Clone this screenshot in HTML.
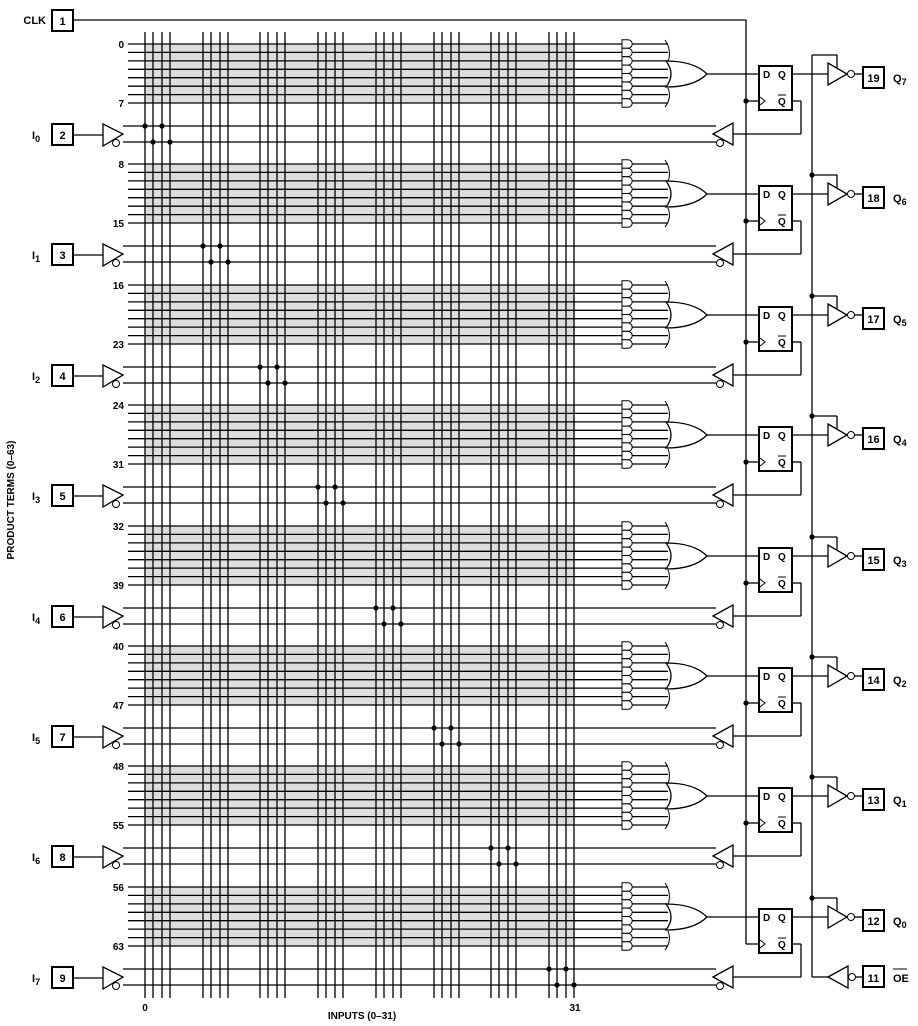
<!DOCTYPE html>
<html><head><meta charset="utf-8"><style>
html,body{margin:0;padding:0;background:#fff;width:918px;height:1026px;overflow:hidden}
svg{display:block}
text{font-family:"Liberation Sans",Arial,sans-serif;font-weight:bold;font-size:11px;fill:#000}
.s{font-size:10px}
.r{text-anchor:end}
.m{text-anchor:middle}
</style></head><body>
<svg id="d" width="918" height="1026" viewBox="0 0 918 1026" xmlns="http://www.w3.org/2000/svg">
<g id="geo" stroke="#000" stroke-width="1.3" fill="none"></g>
<g id="txt">
<text x="46" y="24" class="r">CLK</text><text x="62.5" y="25" class="m">1</text>
<text x="14" y="500" transform="rotate(-90 14 500)" class="m s">PRODUCT TERMS (0–63)</text>
<text x="362" y="1019" class="m s">INPUTS (0–31)</text>
<text x="145" y="1011" class="m s">0</text><text x="575" y="1011" class="m s">31</text>
<text x="124" y="48" class="r s">0</text><text x="124" y="107" class="r s">7</text>
<text x="124" y="168" class="r s">8</text><text x="124" y="227" class="r s">15</text>
<text x="124" y="289" class="r s">16</text><text x="124" y="348" class="r s">23</text>
<text x="124" y="409" class="r s">24</text><text x="124" y="468" class="r s">31</text>
<text x="124" y="530" class="r s">32</text><text x="124" y="589" class="r s">39</text>
<text x="124" y="650" class="r s">40</text><text x="124" y="709" class="r s">47</text>
<text x="124" y="770" class="r s">48</text><text x="124" y="829" class="r s">55</text>
<text x="124" y="891" class="r s">56</text><text x="124" y="950" class="r s">63</text>
<text x="32" y="139">I<tspan dy="3" font-size="9">0</tspan></text><text x="62.5" y="139" class="m">2</text>
<text x="32" y="259">I<tspan dy="3" font-size="9">1</tspan></text><text x="62.5" y="259" class="m">3</text>
<text x="32" y="380">I<tspan dy="3" font-size="9">2</tspan></text><text x="62.5" y="380" class="m">4</text>
<text x="32" y="500">I<tspan dy="3" font-size="9">3</tspan></text><text x="62.5" y="500" class="m">5</text>
<text x="32" y="621">I<tspan dy="3" font-size="9">4</tspan></text><text x="62.5" y="621" class="m">6</text>
<text x="32" y="741">I<tspan dy="3" font-size="9">5</tspan></text><text x="62.5" y="741" class="m">7</text>
<text x="32" y="861">I<tspan dy="3" font-size="9">6</tspan></text><text x="62.5" y="861" class="m">8</text>
<text x="32" y="982">I<tspan dy="3" font-size="9">7</tspan></text><text x="62.5" y="982" class="m">9</text>
<text x="873.5" y="82" class="m">19</text><text x="893" y="82">Q<tspan dy="3" font-size="9">7</tspan></text>
<text x="873.5" y="202" class="m">18</text><text x="893" y="202">Q<tspan dy="3" font-size="9">6</tspan></text>
<text x="873.5" y="323" class="m">17</text><text x="893" y="323">Q<tspan dy="3" font-size="9">5</tspan></text>
<text x="873.5" y="443" class="m">16</text><text x="893" y="443">Q<tspan dy="3" font-size="9">4</tspan></text>
<text x="873.5" y="564" class="m">15</text><text x="893" y="564">Q<tspan dy="3" font-size="9">3</tspan></text>
<text x="873.5" y="684" class="m">14</text><text x="893" y="684">Q<tspan dy="3" font-size="9">2</tspan></text>
<text x="873.5" y="804" class="m">13</text><text x="893" y="804">Q<tspan dy="3" font-size="9">1</tspan></text>
<text x="873.5" y="925" class="m">12</text><text x="893" y="925">Q<tspan dy="3" font-size="9">0</tspan></text>
<text x="873.5" y="982" class="m">11</text><text x="893" y="982">OE</text>
<text x="763" y="78" class="s">D</text><text x="778" y="78" class="s">Q</text><text x="778" y="105" class="s">Q</text>
<text x="763" y="198" class="s">D</text><text x="778" y="198" class="s">Q</text><text x="778" y="225" class="s">Q</text>
<text x="763" y="319" class="s">D</text><text x="778" y="319" class="s">Q</text><text x="778" y="346" class="s">Q</text>
<text x="763" y="439" class="s">D</text><text x="778" y="439" class="s">Q</text><text x="778" y="466" class="s">Q</text>
<text x="763" y="560" class="s">D</text><text x="778" y="560" class="s">Q</text><text x="778" y="587" class="s">Q</text>
<text x="763" y="680" class="s">D</text><text x="778" y="680" class="s">Q</text><text x="778" y="707" class="s">Q</text>
<text x="763" y="800" class="s">D</text><text x="778" y="800" class="s">Q</text><text x="778" y="827" class="s">Q</text>
<text x="763" y="921" class="s">D</text><text x="778" y="921" class="s">Q</text><text x="778" y="948" class="s">Q</text>
</g>
</svg>
<script>
(function(){
var g=document.getElementById('geo'),h='';
function L(a,b,c,d){h+='<line x1="'+a+'" y1="'+b+'" x2="'+c+'" y2="'+d+'"/>';}
function P(d,f,sw){h+='<path d="'+d+'" fill="'+(f||'none')+'"'+(sw?' stroke-width="'+sw+'"':'')+'/>';}
function C(x,y,r,f){h+='<circle cx="'+x+'" cy="'+y+'" r="'+r+'" fill="'+f+'"'+(f=='#000'?' stroke="none"':' stroke-width="1"')+'/>';}
function B(x,y){h+='<rect x="'+x+'" y="'+y+'" width="21" height="21" stroke-width="2" fill="#fff"/>';}
var Y=[44,164,285,405,526,646,766,887],G=[145,203,260,318,376,434,491,549],p=8.43;
var gray='';
Y.forEach(function(y){gray+='<rect x="145" y="'+y+'" width="430" height="59" fill="#ddd" stroke="none"/>';});
h+=gray;
Y.forEach(function(y){for(var i=0;i<8;i++){var r=(y+i*p).toFixed(1);L(128,r,668,r);}});
G.forEach(function(x){[0,8,17,25].forEach(function(o){L(x+o,32,x+o,998);});});
// CLK
B(52,10);L(73,20,746,20);L(746,20,746,944);L(746,944,759,944);
// OE
L(812,55,812,977);L(812,977,828,977);P('M828,977 L848,966 L848,988 Z','#fff');C(852,977,3.5,'#fff');L(855.5,977,863,977);B(863,966);
h+='<line x1="893" y1="969" x2="907" y2="969" stroke-width="1"/>';
Y.forEach(function(y,k){
 // AND shapes
 for(var i=0;i<8;i++){var r=y+i*p;P('M622,'+(r-4.2).toFixed(1)+' h6 a4.2,4.2 0 0 1 0,8.4 h-6 Z','#fff',1);}
 P('M665,'+(y-4)+' Q672,'+(y+6)+' 668,'+(y+18),'',1);
 P('M668,'+(y+44)+' Q672,'+(y+54)+' 665,'+(y+63),'',1);
 P('M666,'+(y+17)+' Q676,'+(y+30)+' 666,'+(y+43)+' Q694,'+(y+43)+' 707,'+(y+30)+' Q694,'+(y+17)+' 666,'+(y+17)+' Z','#fff');
 L(707,y+30,759,y+30);
 h+='<rect x="759" y="'+(y+22)+'" width="33" height="44" stroke-width="2" fill="none"/>';
 h+='<line x1="778" y1="'+(y+51)+'" x2="786" y2="'+(y+51)+'" stroke-width="1"/>';
 P('M760,'+(y+53)+' l5,4 l-5,4','',1);
 if(k<7){L(746,y+57,759,y+57);C(746,y+57,2.6,'#000');}
 // feedback
 L(792,y+57,801,y+57);L(801,y+57,801,y+90);L(801,y+90,733,y+90);
 L(123,y+82,716,y+82);L(123,y+98,716,y+98);
 P('M713,'+(y+90)+' L733,'+(y+79)+' L733,'+(y+101)+' Z','#fff');C(720,y+99,3.5,'#fff');
 // input pin
 B(52,y+80);L(73,y+91,103,y+91);
 P('M103,'+(y+80)+' L123,'+(y+90)+' L103,'+(y+102)+' Z','#fff');C(116,y+99,3.5,'#fff');
 var x=G[k];C(x,y+82,2.6,'#000');C(x+17,y+82,2.6,'#000');C(x+8,y+98,2.6,'#000');C(x+25,y+98,2.6,'#000');
 // output
 L(792,y+30,828,y+30);
 L(812,y+11,837,y+11);L(837,y+11,837,y+24);
 if(k>0)C(812,y+11,2.6,'#000');
 P('M828,'+(y+19)+' L847,'+(y+30)+' L828,'+(y+41)+' Z','#fff');C(851,y+30,3.5,'#fff');L(854.5,y+30,863,y+30);
 B(863,y+23);
});
g.innerHTML=h;
})();
</script>
</body></html>
